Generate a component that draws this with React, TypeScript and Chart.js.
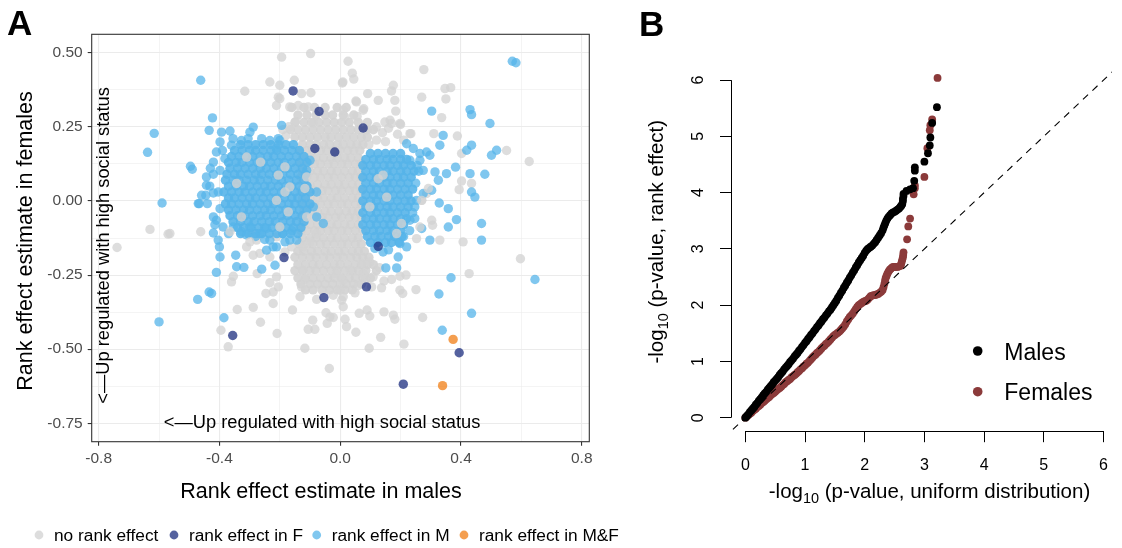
import React, { useEffect, useRef } from "react";
import { Chart, registerables } from "chart.js";
Chart.register(...registerables);

const FONT = "'Liberation Sans', Arial, Helvetica, sans-serif";

// ---------------- Panel A data ----------------
const xTicksA = [-0.8, -0.6, -0.4, -0.2, 0, 0.2, 0.4, 0.6, 0.8];
const xTickLabelsA = ["-0.8", "", "-0.4", "", "0.0", "", "0.4", "", "0.8"];
const yTicksA = [-0.75, -0.625, -0.5, -0.375, -0.25, -0.125, 0, 0.125, 0.25, 0.375, 0.5];
const yTickLabelsA = ["-0.75", "", "-0.50", "", "-0.25", "", "0.00", "", "0.25", "", "0.50"];
const legendLabelsA = ["no rank effect", "rank effect in F", "rank effect in M", "rank effect in M&F"];
const xTitleA = "Rank effect estimate in males";
const yTitleA = "Rank effect estimate in females";
const annotationA = "<\u2014Up regulated with high social status";

// no rank effect: dense core, rows of [y, xs]
const noEffectCoreRows: [number, number[]][] = [
  [0.315, [-0.16, -0.12, -0.085, -0.05, -0.01, 0.02]],
  [0.29, [-0.14, -0.11, -0.08, -0.05, -0.025, 0.01, 0.045]],
  [0.265, [-0.15, -0.12, -0.095, -0.07, -0.045, -0.02, 0.005, 0.03, 0.06, 0.09]],
  [0.24, [-0.165, -0.14, -0.115, -0.09, -0.065, -0.04, -0.015, 0.01, 0.035, 0.06, 0.085, 0.11]],
  [0.215, [-0.15, -0.125, -0.1, -0.075, -0.05, -0.03, -0.005, 0.02, 0.045, 0.07, 0.09]],
  [0.19, [-0.125, -0.1, -0.08, -0.055, -0.035, -0.01, 0.01, 0.035, 0.055, 0.075]],
  [0.17, [-0.135, -0.11, -0.09, -0.065, -0.045, -0.02, 0.0, 0.025, 0.045, 0.065]],
  [0.145, [-0.125, -0.1, -0.08, -0.055, -0.03, -0.01, 0.015, 0.035, 0.06]],
  [0.125, [-0.13, -0.11, -0.085, -0.065, -0.04, -0.02, 0.005, 0.025, 0.05, 0.07]],
  [0.1, [-0.125, -0.1, -0.075, -0.055, -0.03, -0.01, 0.015, 0.04, 0.06]],
  [0.08, [-0.13, -0.11, -0.085, -0.065, -0.04, -0.02, 0.005, 0.03, 0.05, 0.07]],
  [0.055, [-0.12, -0.1, -0.075, -0.05, -0.03, -0.005, 0.015, 0.04, 0.06]],
  [0.035, [-0.13, -0.11, -0.085, -0.06, -0.04, -0.015, 0.005, 0.03, 0.05, 0.07]],
  [0.01, [-0.125, -0.1, -0.075, -0.055, -0.03, -0.01, 0.015, 0.04, 0.06]],
  [-0.01, [-0.13, -0.11, -0.085, -0.065, -0.04, -0.02, 0.005, 0.025, 0.05, 0.07]],
  [-0.035, [-0.12, -0.1, -0.075, -0.05, -0.03, -0.005, 0.02, 0.04, 0.06]],
  [-0.055, [-0.13, -0.11, -0.085, -0.06, -0.04, -0.015, 0.005, 0.03, 0.05, 0.07]],
  [-0.08, [-0.125, -0.1, -0.075, -0.055, -0.03, -0.01, 0.015, 0.035, 0.06]],
  [-0.1, [-0.13, -0.11, -0.085, -0.065, -0.04, -0.02, 0.005, 0.025, 0.05, 0.075]],
  [-0.125, [-0.125, -0.1, -0.08, -0.055, -0.03, -0.01, 0.015, 0.04, 0.06]],
  [-0.145, [-0.135, -0.11, -0.09, -0.065, -0.045, -0.02, 0.005, 0.025, 0.05, 0.07]],
  [-0.17, [-0.14, -0.12, -0.095, -0.075, -0.05, -0.03, -0.005, 0.015, 0.04, 0.06, 0.08]],
  [-0.19, [-0.15, -0.125, -0.1, -0.08, -0.055, -0.035, -0.01, 0.01, 0.035, 0.055, 0.075, 0.095]],
  [-0.215, [-0.14, -0.115, -0.09, -0.07, -0.045, -0.02, 0.0, 0.025, 0.05, 0.07, 0.09, 0.11]],
  [-0.235, [-0.15, -0.125, -0.1, -0.08, -0.055, -0.03, -0.01, 0.015, 0.04, 0.06, 0.085, 0.12]],
  [-0.26, [-0.14, -0.115, -0.09, -0.065, -0.04, -0.02, 0.005, 0.03, 0.05, 0.075, 0.1]],
  [-0.28, [-0.13, -0.1, -0.075, -0.05, -0.025, 0.0, 0.02, 0.045, 0.07]],
  [-0.3, [-0.115, -0.09, -0.06, -0.035, -0.01, 0.015, 0.04]],
];

// no rank effect: scattered genes [x, y]
const noEffectScatter: [number, number][] = [
  [-0.098, 0.497], [-0.194, 0.485], [0.026, 0.471], [0.04, 0.431], [0.045, 0.411], [0.007, 0.398],
  [0.091, 0.362], [0.126, 0.339], [0.052, 0.337], [0.078, 0.311], [0.056, 0.285], [0.01, 0.306],
  [0.016, 0.283], [0.176, 0.39], [0.17, 0.371], [0.181, 0.339], [0.184, 0.303], [0.277, 0.443],
  [0.347, 0.379], [0.366, 0.382], [0.27, 0.35], [0.35, 0.344], [0.336, 0.281], [0.388, 0.219],
  [0.402, 0.16], [0.31, 0.227], [0.234, 0.227], [0.2, 0.258], [0.165, 0.272], [0.551, 0.17],
  [0.626, 0.133], [0.597, -0.195], [0.407, -0.138], [0.33, -0.132], [0.402, 0.067], [0.394, 0.038],
  [0.435, 0.059], [0.303, -0.065], [0.306, -0.082], [0.27, 0.002], [0.286, 0.025], [0.253, -0.127],
  [-0.316, 0.37], [-0.233, 0.401], [-0.2, 0.39], [-0.152, 0.407], [-0.128, 0.362], [-0.097, 0.365],
  [-0.205, 0.35], [-0.211, 0.322], [-0.167, 0.317], [-0.139, 0.322], [-0.106, 0.317], [0.009, 0.401],
  [-0.147, 0.268], [-0.089, 0.263], [-0.564, -0.11], [-0.462, -0.104], [-0.63, -0.096], [-0.57, -0.112],
  [-0.739, -0.157], [-0.2, 0.345], [-0.19, 0.24], [-0.17, 0.25], [-0.18, 0.22],
  [-0.395, -0.436], [-0.371, -0.492], [-0.341, -0.366], [-0.288, -0.359], [-0.264, -0.409],
  [-0.209, -0.447], [-0.222, -0.346], [-0.158, -0.368], [-0.36, -0.273], [-0.354, -0.254],
  [-0.275, -0.245], [-0.233, -0.276], [-0.211, -0.256], [-0.222, -0.307], [-0.205, -0.29],
  [-0.246, -0.312], [-0.288, -0.183], [-0.133, -0.323], [-0.078, -0.332], [-0.047, -0.377],
  [-0.034, -0.391], [-0.091, -0.402], [-0.106, -0.433], [-0.084, -0.433], [-0.043, -0.413],
  [0.016, -0.399], [0.021, -0.424], [-0.117, -0.497], [-0.036, -0.565], [-0.123, -0.233],
  [-0.117, -0.265], [-0.128, -0.29], [-0.001, -0.301], [0.01, -0.267], [-0.012, -0.245],
  [0.005, -0.335], [0.01, -0.357], [0.096, -0.497], [0.134, -0.46], [0.211, -0.483],
  [0.052, -0.443], [-0.023, -0.393], [0.063, -0.379], [0.089, -0.368], [0.098, -0.388],
  [0.145, -0.374], [0.176, -0.385], [0.181, -0.399], [0.273, -0.393], [0.251, -0.299],
  [0.198, -0.301], [0.207, -0.312], [0.137, -0.293], [0.104, -0.29], [0.049, -0.31],
  [0.01, -0.323], [-0.023, -0.318], [0.427, -0.245], [0.17, -0.265], [0.198, -0.254], [0.218, -0.25],
  [-0.277, -0.132], [-0.293, -0.11], [-0.31, -0.155], [-0.266, -0.177], [-0.233, -0.189],
  [-0.211, -0.121], [-0.183, -0.172], [-0.161, -0.155], [-0.123, -0.155], [-0.1, -0.138], [-0.078, -0.11],
  [0.054, 0.334], [0.076, 0.306], [0.148, 0.266], [0.17, 0.261], [0.198, 0.261], [0.231, 0.227],
  [0.09, 0.24], [0.12, 0.25], [0.14, 0.23], [0.16, 0.245], [0.19, 0.225], [0.21, 0.205],
  [0.12, 0.205], [0.095, 0.19], [0.15, 0.2], [0.076, -0.245], [0.109, -0.256], [0.032, -0.233],
  [0.071, -0.211], [0.098, -0.206], [0.13, -0.225], [0.145, -0.27], [0.085, -0.265], [0.06, -0.285],
];

// no rank effect genes that sit visibly over the clusters
const noEffectFront: [number, number][] = [
  [-0.343, 0.059], [-0.31, 0.148], [-0.211, 0.002], [-0.183, 0.03], [-0.167, 0.047], [-0.205, 0.087],
  [-0.183, 0.115], [-0.111, 0.081], [-0.117, 0.042], [-0.2, -0.088], [-0.172, -0.037], [-0.111, -0.054],
  [-0.264, 0.131], [-0.365, -0.104], [-0.327, -0.054], [-0.299, -0.138],
  [0.154, 0.013], [0.126, 0.075], [0.142, 0.087], [0.098, -0.02], [0.203, -0.076], [0.187, -0.11],
  [0.264, -0.088], [0.27, 0.002], [0.292, 0.042],
];

// rank effect in M: left dense cluster rows [y, xs]
const effectMLeftRows: [number, number[]][] = [
  [0.19, [-0.33, -0.305, -0.28, -0.255, -0.23, -0.205, -0.18, -0.155]],
  [0.17, [-0.35, -0.325, -0.3, -0.28, -0.255, -0.23, -0.21, -0.185, -0.16, -0.135]],
  [0.15, [-0.36, -0.335, -0.31, -0.29, -0.265, -0.24, -0.22, -0.195, -0.17, -0.145, -0.12]],
  [0.13, [-0.37, -0.345, -0.325, -0.3, -0.275, -0.255, -0.23, -0.205, -0.185, -0.16, -0.135, -0.11]],
  [0.11, [-0.365, -0.34, -0.315, -0.29, -0.265, -0.245, -0.22, -0.195, -0.175, -0.15, -0.125]],
  [0.09, [-0.375, -0.35, -0.33, -0.305, -0.28, -0.26, -0.235, -0.21, -0.19, -0.165, -0.14, -0.115]],
  [0.07, [-0.38, -0.355, -0.335, -0.31, -0.285, -0.265, -0.24, -0.215, -0.195, -0.17, -0.145, -0.12]],
  [0.05, [-0.37, -0.345, -0.32, -0.3, -0.275, -0.25, -0.23, -0.205, -0.18, -0.16, -0.135, -0.11]],
  [0.03, [-0.385, -0.36, -0.335, -0.315, -0.29, -0.265, -0.245, -0.22, -0.195, -0.175, -0.15, -0.125, -0.1]],
  [0.01, [-0.37, -0.35, -0.325, -0.3, -0.28, -0.255, -0.23, -0.21, -0.185, -0.16, -0.14, -0.115]],
  [-0.01, [-0.38, -0.36, -0.335, -0.31, -0.29, -0.265, -0.24, -0.22, -0.195, -0.17, -0.15, -0.125, -0.1]],
  [-0.03, [-0.37, -0.345, -0.32, -0.3, -0.275, -0.25, -0.23, -0.205, -0.18, -0.16, -0.135, -0.11]],
  [-0.05, [-0.365, -0.34, -0.315, -0.29, -0.265, -0.245, -0.22, -0.195, -0.175, -0.15, -0.125]],
  [-0.07, [-0.355, -0.33, -0.305, -0.285, -0.26, -0.235, -0.215, -0.19, -0.165, -0.145, -0.12]],
  [-0.09, [-0.34, -0.32, -0.295, -0.27, -0.25, -0.225, -0.2, -0.18, -0.155, -0.13]],
  [-0.11, [-0.33, -0.305, -0.28, -0.26, -0.235, -0.21, -0.19, -0.165, -0.14]],
];

// rank effect in M: right dense cluster rows [y, xs]
const effectMRightRows: [number, number[]][] = [
  [0.16, [0.1, 0.125, 0.15, 0.175, 0.2]],
  [0.14, [0.085, 0.11, 0.13, 0.155, 0.175, 0.2, 0.22]],
  [0.12, [0.075, 0.1, 0.12, 0.145, 0.165, 0.19, 0.21, 0.235]],
  [0.1, [0.085, 0.11, 0.13, 0.155, 0.175, 0.2, 0.22, 0.245]],
  [0.08, [0.075, 0.1, 0.12, 0.145, 0.165, 0.19, 0.21, 0.235]],
  [0.06, [0.085, 0.11, 0.13, 0.155, 0.175, 0.2, 0.225]],
  [0.04, [0.075, 0.1, 0.12, 0.145, 0.165, 0.19, 0.215, 0.24]],
  [0.02, [0.085, 0.11, 0.13, 0.155, 0.175, 0.2, 0.225]],
  [0.0, [0.075, 0.1, 0.12, 0.145, 0.165, 0.19, 0.215, 0.235]],
  [-0.02, [0.085, 0.11, 0.13, 0.155, 0.175, 0.2, 0.225]],
  [-0.04, [0.075, 0.1, 0.12, 0.145, 0.165, 0.19, 0.215]],
  [-0.06, [0.085, 0.11, 0.13, 0.155, 0.175, 0.2, 0.22]],
  [-0.08, [0.075, 0.1, 0.12, 0.145, 0.165, 0.19, 0.21]],
  [-0.1, [0.085, 0.11, 0.13, 0.155, 0.175, 0.2]],
  [-0.12, [0.09, 0.115, 0.135, 0.16, 0.18, 0.205]],
  [-0.14, [0.1, 0.125, 0.15, 0.17, 0.195]],
];

// rank effect in M: scattered genes [x, y]
const effectMScatter: [number, number][] = [
  [-0.462, 0.407], [-0.423, 0.28], [-0.434, 0.238], [-0.616, 0.228], [-0.638, 0.164], [-0.496, 0.117],
  [-0.49, 0.107], [-0.59, -0.007], [-0.467, -0.009], [-0.459, 0.019], [-0.443, 0.081], [-0.443, 0.053],
  [-0.42, 0.027], [-0.393, 0.232], [-0.365, 0.236], [-0.288, 0.249], [-0.299, 0.232], [-0.327, 0.204],
  [-0.305, 0.21], [-0.194, 0.255], [-0.26, 0.21], [-0.233, 0.204], [-0.205, 0.21], [-0.398, 0.199],
  [-0.36, 0.188], [-0.41, 0.165], [-0.382, 0.143], [-0.42, 0.131], [-0.432, 0.05], [-0.445, 0.019],
  [-0.47, -0.009], [-0.44, -0.009], [-0.42, -0.054], [-0.41, -0.065], [-0.398, -0.026], [-0.404, 0.03],
  [-0.398, 0.103], [-0.388, -0.088], [-0.42, -0.108], [-0.354, -0.088], [-0.327, -0.104], [-0.299, -0.088],
  [-0.266, -0.11], [-0.244, -0.093], [-0.233, -0.132], [-0.211, -0.155], [-0.183, -0.138], [-0.167, -0.132],
  [-0.144, -0.132], [-0.404, -0.132], [-0.4, -0.155], [-0.346, -0.183], [-0.398, -0.189], [-0.078, 0.03],
  [-0.089, -0.02], [-0.056, -0.076], [-0.078, -0.054], [-0.111, 0.103], [-0.1, 0.137], [-0.2, 0.204],
  [-0.211, 0.177], [-0.343, -0.222], [-0.319, -0.224], [-0.41, -0.241], [-0.434, -0.307], [-0.426, -0.312],
  [-0.472, -0.332], [-0.385, -0.394], [-0.26, -0.23], [-0.6, -0.408], [-0.222, -0.155], [-0.244, -0.166],
  [-0.216, -0.217], [-0.37, -0.11], [-0.31, -0.115], [-0.28, -0.12], [-0.25, -0.13], [-0.19, -0.11],
  [-0.16, -0.1], [-0.355, 0.21], [-0.42, 0.09], [-0.43, 0.11], [-0.415, -0.08], [-0.39, 0.17],
  [0.22, 0.193], [0.231, 0.137], [0.264, 0.16], [0.297, 0.154], [0.275, 0.103], [0.314, 0.098],
  [0.352, 0.092], [0.325, 0.07], [0.303, 0.036], [0.275, 0.025], [0.253, 0.002], [0.247, -0.02],
  [0.231, -0.065], [0.27, -0.093], [0.297, -0.132], [0.328, -0.007], [0.358, -0.026], [0.385, -0.063],
  [0.358, -0.088], [0.341, 0.221], [0.33, 0.188], [0.419, 0.171], [0.435, 0.188], [0.501, 0.154],
  [0.518, 0.171], [0.479, 0.09], [0.43, 0.092], [0.435, 0.03], [0.446, 0.013], [0.468, -0.132],
  [0.468, -0.076], [0.496, 0.261], [0.43, 0.308], [0.435, 0.291], [0.303, 0.303], [0.57, 0.471],
  [0.582, 0.466], [0.382, 0.114], [0.242, 0.177], [0.264, 0.137], [0.286, 0.165], [0.187, -0.226],
  [0.151, -0.226], [0.367, -0.259], [0.645, -0.265], [0.247, -0.059], [0.327, -0.314], [0.435, -0.379],
  [0.338, -0.436], [0.142, -0.172], [0.192, -0.189], [0.22, -0.155], [0.198, -0.144], [0.115, -0.16],
  [0.16, -0.165], [0.21, -0.12], [0.23, -0.1], [0.25, 0.06], [0.26, 0.1], [0.255, 0.12], [0.24, -0.04],
];

// rank effect in F [x, y]
const effectF: [number, number][] = [
  [-0.156, 0.371], [-0.07, 0.302], [0.076, 0.246], [-0.084, 0.177], [-0.018, 0.165], [-0.186, -0.191],
  [-0.356, -0.454], [-0.054, -0.326], [0.087, -0.29], [0.394, -0.512], [0.209, -0.618], [0.126, -0.153],
];

// rank effect in M&F [x, y]
const effectMF: [number, number][] = [[0.374, -0.467], [0.339, -0.623]];

// ---------------- Panel B data ----------------
const xTicksB = [0, 1, 2, 3, 4, 5, 6];
const yTicksB = [0, 1, 2, 3, 4, 5, 6];
const legendLabelsB = ["Males", "Females"];
const xTitleB = ["-log", "10", " (p-value, uniform distribution)"];
const yTitleB = ["-log", "10", " (p-value, rank effect)"];
const refLine = [-1, 7]; // y = x

const maleX = [
  0, 0.025, 0.05, 0.075, 0.1, 0.125, 0.15, 0.175, 0.2, 0.225, 0.25, 0.275, 0.3, 0.325, 0.35, 0.375, 0.4, 0.425,
  0.45, 0.475, 0.5, 0.525, 0.55, 0.575, 0.6, 0.625, 0.65, 0.675, 0.7, 0.725, 0.75, 0.775, 0.8, 0.825, 0.85, 0.875,
  0.9, 0.925, 0.95, 0.975, 1.0, 1.025, 1.05, 1.075, 1.1, 1.125, 1.15, 1.175, 1.2, 1.225, 1.25, 1.275, 1.3, 1.325,
  1.35, 1.375, 1.4, 1.425, 1.45, 1.475, 1.5, 1.525, 1.55, 1.575, 1.6, 1.625, 1.65, 1.675, 1.7, 1.725, 1.75, 1.775,
  1.8, 1.825, 1.85, 1.875, 1.9, 1.925, 1.95, 1.975, 2.0, 2.025, 2.05, 2.075, 2.1, 2.125, 2.15, 2.175, 2.2, 2.225,
  2.25, 2.275, 2.3, 2.315, 2.33, 2.345, 2.36, 2.38, 2.4, 2.425, 2.45, 2.475, 2.5, 2.525, 2.55, 2.575, 2.6, 2.615,
  2.63, 2.64, 2.64, 2.65, 2.65, 2.7, 2.76, 2.81, 2.83, 2.84, 2.84, 3.0, 3.06, 3.09, 3.1, 3.13, 3.21,
];
const maleY = [
  0, 0.03, 0.06, 0.1, 0.13, 0.16, 0.19, 0.23, 0.26, 0.3, 0.33, 0.36, 0.4, 0.43, 0.46, 0.5, 0.53, 0.56,
  0.59, 0.63, 0.66, 0.69, 0.72, 0.76, 0.79, 0.82, 0.86, 0.89, 0.92, 0.95, 0.99, 1.02, 1.05, 1.09, 1.12, 1.15,
  1.19, 1.22, 1.26, 1.29, 1.33, 1.36, 1.4, 1.43, 1.47, 1.5, 1.54, 1.57, 1.61, 1.64, 1.68, 1.71, 1.75, 1.78,
  1.82, 1.85, 1.89, 1.92, 1.96, 2.0, 2.04, 2.08, 2.13, 2.17, 2.22, 2.26, 2.31, 2.35, 2.4, 2.44, 2.49, 2.53,
  2.58, 2.62, 2.67, 2.71, 2.76, 2.8, 2.84, 2.88, 2.93, 2.97, 3.0, 3.02, 3.04, 3.06, 3.09, 3.12, 3.16, 3.2,
  3.24, 3.28, 3.33, 3.38, 3.42, 3.46, 3.5, 3.54, 3.57, 3.6, 3.63, 3.65, 3.66, 3.68, 3.7, 3.72, 3.75, 3.77,
  3.8, 3.85, 3.89, 3.94, 3.98, 4.03, 4.06, 4.08, 4.21, 4.39, 4.45, 4.55, 4.7, 4.84, 4.98, 5.24, 5.52,
];
const femaleX = [
  0, 0.025, 0.05, 0.075, 0.1, 0.125, 0.15, 0.175, 0.2, 0.225, 0.25, 0.275, 0.3, 0.325, 0.35, 0.375, 0.4, 0.425,
  0.45, 0.475, 0.5, 0.525, 0.55, 0.575, 0.6, 0.625, 0.65, 0.675, 0.7, 0.725, 0.75, 0.775, 0.8, 0.825, 0.85, 0.875,
  0.9, 0.925, 0.95, 0.975, 1.0, 1.025, 1.05, 1.075, 1.1, 1.125, 1.15, 1.175, 1.2, 1.225, 1.25, 1.275, 1.3, 1.325,
  1.35, 1.375, 1.4, 1.425, 1.45, 1.475, 1.5, 1.525, 1.55, 1.575, 1.6, 1.625, 1.65, 1.675, 1.7, 1.725, 1.75, 1.775,
  1.8, 1.825, 1.85, 1.875, 1.9, 1.925, 1.95, 1.975, 2.0, 2.025, 2.05, 2.075, 2.1, 2.125, 2.15, 2.175, 2.2, 2.225,
  2.25, 2.275, 2.3, 2.315, 2.33, 2.34, 2.35, 2.365, 2.38, 2.4, 2.42, 2.44, 2.46, 2.48, 2.5, 2.525, 2.55, 2.575,
  2.6, 2.61, 2.62, 2.63, 2.64, 2.645, 2.65, 2.71, 2.73, 2.76, 2.82, 2.84, 2.84, 3.0, 3.05, 3.09, 3.1, 3.13, 3.22,
];
const femaleY = [
  0, 0.02, 0.05, 0.07, 0.09, 0.12, 0.14, 0.16, 0.19, 0.21, 0.23, 0.26, 0.28, 0.3, 0.33, 0.35, 0.37, 0.4,
  0.42, 0.44, 0.46, 0.49, 0.51, 0.53, 0.55, 0.58, 0.6, 0.63, 0.65, 0.67, 0.69, 0.72, 0.74, 0.76, 0.78, 0.81,
  0.83, 0.86, 0.88, 0.91, 0.93, 0.96, 0.98, 1.01, 1.04, 1.07, 1.1, 1.12, 1.15, 1.17, 1.2, 1.23, 1.26, 1.28,
  1.31, 1.33, 1.36, 1.39, 1.42, 1.45, 1.47, 1.49, 1.51, 1.53, 1.56, 1.59, 1.62, 1.66, 1.71, 1.75, 1.79, 1.82,
  1.85, 1.89, 1.93, 1.97, 2.0, 2.02, 2.04, 2.06, 2.07, 2.08, 2.1, 2.13, 2.16, 2.17, 2.18, 2.18, 2.19, 2.2,
  2.22, 2.24, 2.27, 2.32, 2.38, 2.43, 2.48, 2.52, 2.56, 2.6, 2.63, 2.65, 2.67, 2.68, 2.68, 2.68, 2.68, 2.69,
  2.7, 2.73, 2.77, 2.81, 2.85, 2.89, 2.94, 3.17, 3.4, 3.54, 3.97, 4.08, 4.13, 4.28, 4.79, 5.11, 5.2, 5.3, 6.04,
];

// ---------------- helpers ----------------
const rowsToPoints = (rows: [number, number[]][]) => rows.flatMap(([y, xs]) => xs.map((x) => ({ x, y })));
const pairsToPoints = (pairs: [number, number][]) => pairs.map(([x, y]) => ({ x, y }));
const zipPoints = (xs: number[], ys: number[]) => xs.map((x, i) => ({ x, y: ys[i] }));

const COL_GRAY = "rgba(211,211,211,0.78)";
const COL_GRAY_DENSE = "rgba(211,211,211,0.92)";
const COL_DARK = "rgba(28,46,127,0.75)";
const COL_LIGHT = "rgba(86,180,233,0.75)";
const COL_LIGHT_DENSE = "rgba(86,180,233,0.9)";
const COL_ORANGE = "rgba(240,125,20,0.75)";
const legendColorsA = [COL_GRAY, COL_DARK, COL_LIGHT, COL_ORANGE];
const COL_MALE = "#000000";
const COL_FEMALE = "#8B3A3A";

function drawParts(ctx: CanvasRenderingContext2D, parts: string[], size: number, subSize: number, subDrop: number) {
  ctx.font = `${size}px ${FONT}`;
  const w0 = ctx.measureText(parts[0]).width;
  const w2 = ctx.measureText(parts[2]).width;
  ctx.font = `${subSize}px ${FONT}`;
  const w1 = ctx.measureText(parts[1]).width;
  const total = w0 + w1 + w2;
  let x = -total / 2;
  ctx.textAlign = "left";
  ctx.textBaseline = "alphabetic";
  ctx.font = `${size}px ${FONT}`;
  ctx.fillText(parts[0], x, 0);
  x += w0;
  ctx.font = `${subSize}px ${FONT}`;
  ctx.fillText(parts[1], x, subDrop);
  x += w1;
  ctx.font = `${size}px ${FONT}`;
  ctx.fillText(parts[2], x, 0);
}

const panelAPlugin = {
  id: "panelA",
  afterDatasetsDraw(chart: any) {
    const { ctx, chartArea: ca, scales } = chart;
    const xs = scales.x;
    const ys = scales.y;
    ctx.save();
    ctx.strokeStyle = "#333333";
    ctx.lineWidth = 1.1;
    ctx.strokeRect(ca.left, ca.top, ca.right - ca.left, ca.bottom - ca.top);
    ctx.fillStyle = "#000";
    ctx.font = `18.3px ${FONT}`;
    ctx.textAlign = "center";
    ctx.textBaseline = "middle";
    ctx.fillText(annotationA, xs.getPixelForValue(-0.06), ys.getPixelForValue(-0.75));
    ctx.save();
    ctx.translate(xs.getPixelForValue(-0.781), ys.getPixelForValue(-0.15));
    ctx.rotate(-Math.PI / 2);
    ctx.fillText(annotationA, 0, 0);
    ctx.restore();
    ctx.font = `21.5px ${FONT}`;
    ctx.textBaseline = "alphabetic";
    ctx.textAlign = "center";
    ctx.fillText(xTitleA, 321, 498);
    ctx.save();
    ctx.translate(32, 241);
    ctx.rotate(-Math.PI / 2);
    ctx.fillText(yTitleA, 0, 0);
    ctx.restore();
    const dotX = [39, 174, 316.7, 464];
    ctx.font = `17.3px ${FONT}`;
    ctx.textAlign = "left";
    legendLabelsA.forEach((label, i) => {
      ctx.fillStyle = legendColorsA[i];
      ctx.beginPath();
      ctx.arc(dotX[i], 535, 4.4, 0, Math.PI * 2);
      ctx.fill();
      ctx.fillStyle = "#000";
      ctx.fillText(label, dotX[i] + 15, 541);
    });
    ctx.font = `bold 35px ${FONT}`;
    ctx.fillText("A", 7, 35);
    ctx.restore();
  },
};

const panelBPlugin = {
  id: "panelB",
  afterDatasetsDraw(chart: any) {
    const { ctx, chartArea: ca, scales } = chart;
    const xs = scales.x;
    const ys = scales.y;
    ctx.save();
    ctx.strokeStyle = "#000";
    ctx.lineWidth = 1;
    ctx.beginPath();
    const by = Math.round(ca.bottom) + 0.5;
    ctx.moveTo(xs.getPixelForValue(xTicksB[0]), by);
    ctx.lineTo(xs.getPixelForValue(xTicksB[xTicksB.length - 1]), by);
    const lx = Math.round(ca.left) + 0.5;
    ctx.moveTo(lx, ys.getPixelForValue(yTicksB[0]));
    ctx.lineTo(lx, ys.getPixelForValue(yTicksB[yTicksB.length - 1]));
    ctx.stroke();
    ctx.fillStyle = "#000";
    ctx.save();
    ctx.translate(289.5, 498.3);
    drawParts(ctx, xTitleB, 20.5, 14.5, 4.5);
    ctx.restore();
    ctx.save();
    ctx.translate(23.3, 241.7);
    ctx.rotate(-Math.PI / 2);
    drawParts(ctx, yTitleB, 20.5, 14.5, 4.5);
    ctx.restore();
    const legCols = [COL_MALE, COL_FEMALE];
    const legY = [351, 391.7];
    const baseY = [359.5, 399.8];
    legendLabelsB.forEach((label, i) => {
      ctx.fillStyle = legCols[i];
      ctx.beginPath();
      ctx.arc(337.7, legY[i], 4.8, 0, Math.PI * 2);
      ctx.fill();
      ctx.fillStyle = "#000";
      ctx.font = `23px ${FONT}`;
      ctx.textAlign = "left";
      ctx.textBaseline = "alphabetic";
      ctx.fillText(label, 364.3, baseY[i]);
    });
    ctx.font = `bold 35px ${FONT}`;
    ctx.textAlign = "left";
    ctx.fillText("B", -1, 36);
    ctx.restore();
  },
};

function scatterSet(label: string, data: any[], color: string, r: number) {
  return {
    label,
    data,
    backgroundColor: color,
    borderWidth: 0,
    pointRadius: r,
    pointHoverRadius: r,
  };
}

export default function App() {
  const refA = useRef<HTMLCanvasElement>(null);
  const refB = useRef<HTMLCanvasElement>(null);

  useEffect(() => {
    const rA = 4.7;
    const isMajorX = (i: number) => xTickLabelsA[i] !== "";
    const isMajorY = (i: number) => yTickLabelsA[i] !== "";
    const chartA = new Chart(refA.current as HTMLCanvasElement, {
      type: "scatter",
      data: {
        datasets: [
          scatterSet(legendLabelsA[3], pairsToPoints(effectMF), COL_ORANGE, rA),
          scatterSet(legendLabelsA[1], pairsToPoints(effectF), COL_DARK, rA),
          scatterSet(legendLabelsA[0], pairsToPoints(noEffectFront), COL_GRAY, rA),
          scatterSet(legendLabelsA[2], pairsToPoints(effectMScatter), COL_LIGHT, rA),
          scatterSet(
            legendLabelsA[2],
            [...rowsToPoints(effectMLeftRows), ...rowsToPoints(effectMRightRows)],
            COL_LIGHT_DENSE,
            rA
          ),
          scatterSet(legendLabelsA[0], pairsToPoints(noEffectScatter), COL_GRAY, rA),
          scatterSet(legendLabelsA[0], rowsToPoints(noEffectCoreRows), COL_GRAY_DENSE, rA),
        ] as any,
      },
      options: {
        responsive: false,
        animation: false,
        events: [],
        layout: { padding: { left: 0, top: 34.3, right: 50.7, bottom: 0 } },
        plugins: { legend: { display: false }, tooltip: { enabled: false } },
        scales: {
          x: {
            type: "linear",
            min: -0.823,
            max: 0.825,
            afterBuildTicks: (s: any) => {
              s.ticks = xTicksA.map((v) => ({ value: v }));
            },
            afterFit: (s: any) => {
              s.height = 106.3;
            },
            ticks: {
              autoSkip: false,
              maxRotation: 0,
              minRotation: 0,
              padding: 4,
              color: "#4D4D4D",
              font: { family: FONT, size: 15.5 },
              callback: (_v: any, i: number) => xTickLabelsA[i],
            },
            grid: {
              color: "#EBEBEB",
              lineWidth: (c: any) => (isMajorX(c.index) ? 1.1 : 0.55),
              tickColor: (c: any) => (isMajorX(c.index) ? "#333333" : "rgba(0,0,0,0)"),
              tickLength: 4,
              tickWidth: 1.1,
            },
            border: { display: false },
          },
          y: {
            type: "linear",
            min: -0.812,
            max: 0.562,
            afterBuildTicks: (s: any) => {
              s.ticks = yTicksA.map((v) => ({ value: v }));
            },
            afterFit: (s: any) => {
              s.width = 91.7;
            },
            ticks: {
              autoSkip: false,
              padding: 5,
              color: "#4D4D4D",
              font: { family: FONT, size: 15.5 },
              callback: (_v: any, i: number) => yTickLabelsA[i],
            },
            grid: {
              color: "#EBEBEB",
              lineWidth: (c: any) => (isMajorY(c.index) ? 1.1 : 0.55),
              tickColor: (c: any) => (isMajorY(c.index) ? "#333333" : "rgba(0,0,0,0)"),
              tickLength: 4,
              tickWidth: 1.1,
            },
            border: { display: false },
          },
        },
      } as any,
      plugins: [panelAPlugin],
    });

    const rB = 3.9;
    const chartB = new Chart(refB.current as HTMLCanvasElement, {
      type: "scatter",
      data: {
        datasets: [
          {
            label: "y = x",
            data: zipPoints(refLine, refLine),
            showLine: true,
            borderColor: "#000",
            borderWidth: 1.1,
            borderDash: [7, 6],
            pointRadius: 0,
            fill: false,
          },
          scatterSet(legendLabelsB[0], zipPoints(maleX, maleY), COL_MALE, rB),
          scatterSet(legendLabelsB[1], zipPoints(femaleX, femaleY), COL_FEMALE, rB),
        ] as any,
      },
      options: {
        responsive: false,
        animation: false,
        events: [],
        layout: { padding: { left: 0, top: 52, right: 0, bottom: 0 } },
        plugins: { legend: { display: false }, tooltip: { enabled: false } },
        scales: {
          x: {
            type: "linear",
            min: -0.24,
            max: 6.139,
            afterBuildTicks: (s: any) => {
              s.ticks = xTicksB.map((v) => ({ value: v }));
            },
            afterFit: (s: any) => {
              s.height = 116.8;
            },
            ticks: {
              autoSkip: false,
              maxRotation: 0,
              padding: 14,
              color: "#000",
              font: { family: FONT, size: 16 },
            },
            grid: { drawOnChartArea: false, drawTicks: true, tickLength: 11, color: "#000", lineWidth: 1 },
            border: { display: false },
          },
          y: {
            type: "linear",
            min: -0.24,
            max: 6.5,
            afterBuildTicks: (s: any) => {
              s.ticks = yTicksB.map((v) => ({ value: v }));
            },
            afterFit: (s: any) => {
              s.width = 91;
            },
            ticks: {
              autoSkip: false,
              minRotation: 90,
              maxRotation: 90,
              crossAlign: "center",
              padding: 17,
              color: "#000",
              font: { family: FONT, size: 16 },
            },
            grid: { drawOnChartArea: false, drawTicks: true, tickLength: 11, color: "#000", lineWidth: 1 },
            border: { display: false },
          },
        },
      } as any,
      plugins: [panelBPlugin],
    });

    return () => {
      chartA.destroy();
      chartB.destroy();
    };
  }, []);

  return (
    <div style={{ position: "fixed", left: 0, top: 0, width: 1122, height: 548, background: "#ffffff" }}>
      <canvas
        ref={refA}
        width={640}
        height={548}
        style={{ position: "absolute", left: 0, top: 0, width: 640, height: 548 }}
      />
      <canvas
        ref={refB}
        width={482}
        height={548}
        style={{ position: "absolute", left: 640, top: 0, width: 482, height: 548 }}
      />
    </div>
  );
}
